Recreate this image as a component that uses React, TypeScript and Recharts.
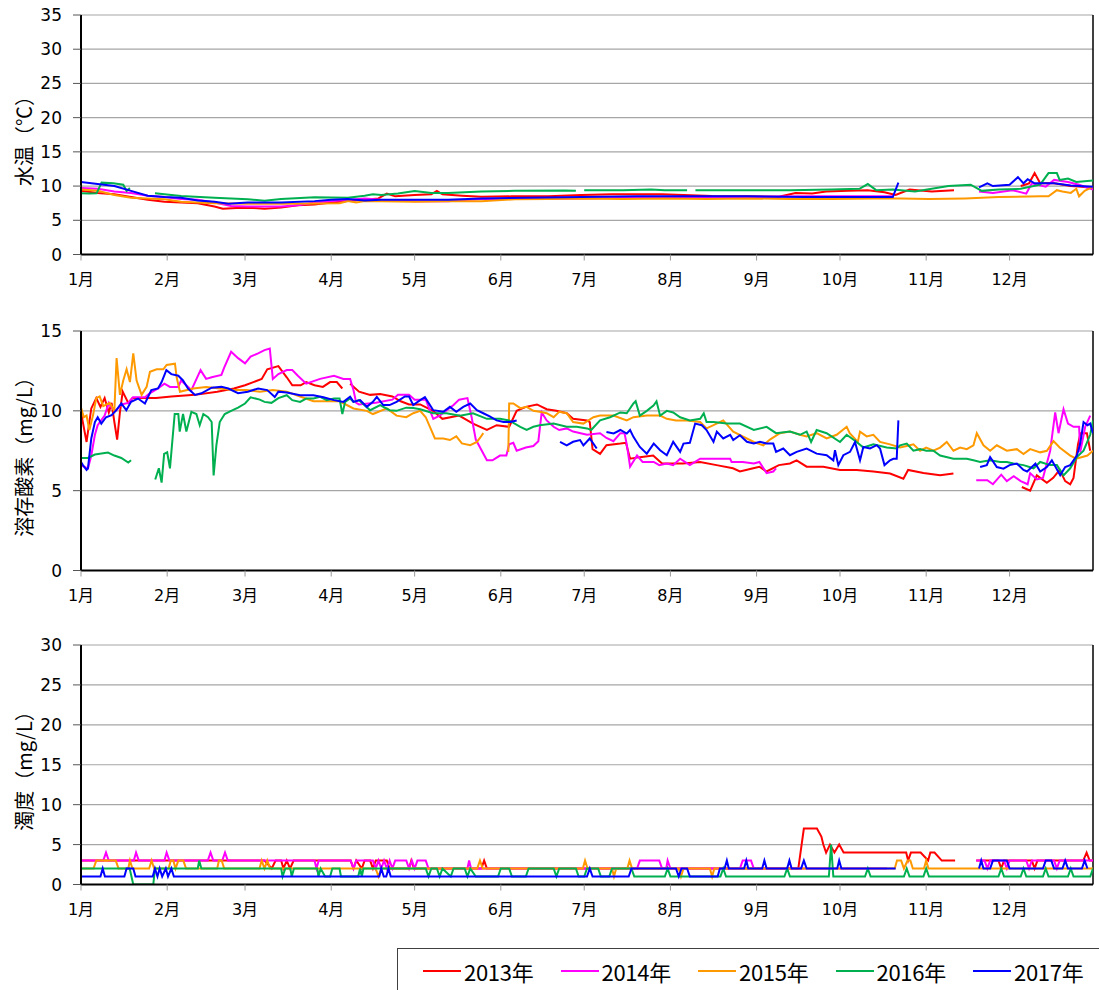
import React from "react";
import { LineChart, Line, XAxis, YAxis, CartesianGrid, ReferenceLine } from "recharts";

// [day of year (0 = Jan 1), value]; null marks a gap in the record
type Pt = [number, number | null];

const YEARS = ["2013年", "2014年", "2015年", "2016年", "2017年"];
const COLORS = ["#ff0000", "#ff00ff", "#ff9900", "#00b050", "#0000ff"];

const MONTH_DAYS = [0, 31, 59, 90, 120, 151, 181, 212, 243, 273, 304, 334];
const MONTH_LABELS = ["1月", "2月", "3月", "4月", "5月", "6月", "7月", "8月", "9月", "10月", "11月", "12月"];

const WT_TICKS = [0, 5, 10, 15, 20, 25, 30, 35];
const DO_TICKS = [0, 5, 10, 15];
const TB_TICKS = [0, 5, 10, 15, 20, 25, 30];

// 水温 (℃)
const WT_2013: Pt[] = [
  [0, 9.3], [6, 9.0], [12, 8.8], [18, 8.4], [24, 8.0], [30, 7.7], [36, 7.6], [42, 7.5], [48, 7.0], [51, 6.7],
  [56, 6.8], [62, 6.8], [66, 6.7], [72, 6.85], [78, 7.2], [84, 7.3], [90, 7.6], [96, 7.8], [102, 8.0], [107, 8.2],
  [110, 8.9], [113, 8.5], [120, 8.7], [126, 8.8], [128, 9.3], [130, 8.8], [137, 8.6], [144, 8.45], [155, 8.5],
  [168, 8.5], [180, 8.7], [191, 8.8], [209, 8.8], [227, 8.55], [240, 8.5], [251, 8.45], [257, 9.0], [263, 8.9],
  [268, 9.2], [276, 9.3], [283, 9.4], [289, 9.1], [293, 8.7], [298, 9.5], [306, 9.2], [314, 9.4], [315, null],
  [338, 10.0], [341, 10.4], [343, 11.9], [345, 10.4], [350, 10.4], [356, 10.0], [360, 9.9], [364, 9.7],
];
const WT_2014: Pt[] = [
  [0, 9.7], [6, 9.6], [12, 9.2], [18, 9.0], [24, 8.6], [30, 8.4], [36, 8.1], [42, 8.0], [48, 7.6], [54, 7.1],
  [60, 7.0], [66, 7.0], [72, 7.0], [78, 7.2], [84, 7.6], [90, 7.8], [96, 7.96], [102, 8.2], [108, 8.0], [114, 7.9],
  [120, 7.8], [132, 7.8], [144, 8.1], [160, 8.1], [180, 8.2], [200, 8.3], [220, 8.4], [240, 8.4], [260, 8.5],
  [280, 8.5], [292, 8.5], [293, null], [323, 9.2], [328, 9.0], [335, 9.4], [340, 8.9], [342, 10.4], [347, 9.9],
  [350, 10.9], [355, 10.6], [359, 10.2], [364, 9.5],
];
const WT_2015: Pt[] = [
  [0, 9.5], [6, 9.3], [12, 8.7], [18, 8.3], [24, 8.2], [30, 8.06], [36, 7.7], [42, 7.6], [48, 7.5], [54, 7.45],
  [60, 7.4], [72, 7.4], [84, 7.45], [93, 7.5], [96, 7.8], [99, 7.6], [102, 7.8], [108, 7.8], [120, 7.7], [132, 7.8],
  [144, 7.8], [156, 8.06], [168, 8.1], [180, 8.2], [195, 8.1], [210, 8.2], [225, 8.1], [240, 8.2], [255, 8.1],
  [270, 8.1], [285, 8.2], [295, 8.2], [305, 8.1], [318, 8.2], [330, 8.4], [345, 8.5], [348, 8.5], [351, 9.4],
  [353, 9.2], [356, 9.0], [358, 9.6], [359, 8.5], [361, 9.3], [364, 9.9],
];
const WT_2016: Pt[] = [
  [0, 8.94], [3, 8.9], [5.6, 8.94], [7.4, 10.5], [11.6, 10.4], [15.2, 10.2], [16.4, 9.3], [17.6, 9.7], [18, null],
  [26.6, 8.94], [36, 8.55], [48, 8.3], [60, 8.06], [66, 7.86], [72, 8.1], [84, 8.36], [96, 8.3], [102, 8.6],
  [105, 8.8], [108, 8.7], [114, 8.9], [120, 9.28], [126, 9.0], [132, 9.0], [138, 9.1], [144, 9.2], [156, 9.3],
  [174, 9.37], [178, 9.3], [179, null], [181, 9.4], [195, 9.4], [205, 9.5], [210, 9.4], [218, 9.4], [219, null],
  [221, 9.4], [240, 9.4], [255, 9.4], [270, 9.5], [280, 9.6], [283, 10.3], [286, 9.4], [292, 9.5], [300, 9.2],
  [312, 10.0], [320, 10.2], [324, 9.3], [330, 9.5], [338, 9.6], [345, 10.2], [348, 11.9], [351, 11.9], [352, 10.9],
  [355, 11.1], [358, 10.6], [364, 10.8],
];
const WT_2017: Pt[] = [
  [0, 10.6], [6, 10.3], [12, 10.0], [18, 9.3], [24, 8.6], [30, 8.4], [36, 8.3], [42, 7.9], [48, 7.7], [53, 7.4],
  [60, 7.6], [72, 7.6], [84, 7.8], [90, 8.0], [96, 8.1], [102, 7.9], [108, 8.0], [120, 8.0], [132, 8.0], [144, 8.2],
  [160, 8.3], [180, 8.4], [200, 8.5], [220, 8.5], [240, 8.5], [260, 8.4], [280, 8.4], [292, 8.4], [294, 10.5],
  [295, null], [323, 9.8], [326, 10.4], [328, 10.0], [334, 10.2], [337, 11.3], [339, 10.4], [340.5, 11.0],
  [343, 10.4], [350, 10.4], [356, 10.1], [364, 9.9],
];

// 溶存酸素 (mg/L)
const DO_2013: Pt[] = [
  [0, 9.9], [2, 8.05], [3.7, 10.15], [5.5, 10.8], [7, 10.25], [8.5, 10.8], [10, 9.9], [11, 10.5], [12, 9.3], [13, 8.2],
  [14, 9.9], [15, 11.2], [17, 10.5], [18.5, 10.8], [21, 10.8], [27, 10.8], [32.5, 10.9], [41, 11.0], [49, 11.2],
  [55, 11.4], [59, 11.6], [62, 11.8], [65, 12.0], [67, 12.6], [71, 12.8], [74, 12.1], [76, 11.6], [79, 11.6],
  [81, 11.8], [84, 11.6], [87, 11.5], [89.6, 11.8], [92, 11.8], [94, 11.4], [95, null], [96.8, 11.7], [100, 11.2],
  [104, 11.0], [107.6, 11.05], [112, 10.9], [115, 10.6], [118, 10.4], [122, 10.4], [126.6, 10.0], [130, 9.5],
  [136, 9.7], [141, 9.2], [146, 8.8], [149.5, 9.1], [154, 9.0], [156.7, 10.0], [160, 10.25], [164, 10.4],
  [167.5, 10.1], [171, 10.0], [174.7, 9.85], [177, 9.5], [182, 9.4], [183, 9.3], [184, 7.6], [186.7, 7.3],
  [189, 7.85], [194, 7.95], [196, 8.0], [197.5, 7.0], [201, 7.1], [205.8, 7.2], [209, 6.7], [216.5, 6.7],
  [222.7, 6.8], [228.6, 6.6], [234.5, 6.4], [237, 6.2], [241.8, 6.4], [244, 6.5], [246.6, 6.2], [251, 6.6],
  [255, 6.7], [257.4, 6.9], [261, 6.5], [267, 6.5], [273, 6.3], [279, 6.3], [285, 6.2], [291, 6.07], [295.8, 5.75],
  [297.5, 6.3], [303, 6.1], [309, 5.96], [313.8, 6.07], [314.5, null], [338.4, 5.23], [341.4, 5.0], [343.8, 5.96],
  [347.4, 5.5], [349.7, 5.8], [352, 6.3], [354, 5.6], [355.8, 5.4], [357, 5.8], [358.6, 7.9], [359.5, 8.6],
  [361.8, 8.6], [363, 7.5],
];
const DO_2014: Pt[] = [
  [0, 6.6], [1, 6.5], [2.5, 6.4], [3.7, 7.2], [5, 8.5], [6, 9.1], [8.5, 9.7], [10, 10.5], [11, 10.2], [12.5, 10.0],
  [14.5, 10.4], [17, 10.5], [18.7, 10.85], [23, 10.85], [24.7, 11.1], [27.7, 11.4], [30, 11.7], [32, 11.5], [35, 11.5],
  [36, 11.9], [39.7, 11.3], [43, 12.55], [45, 12.0], [47, 12.1], [50.5, 12.25], [51.5, 12.7], [54, 13.7], [56.5, 13.3],
  [59, 12.97], [61, 13.4], [63.7, 13.6], [66, 13.8], [67.9, 13.9], [69, 12.0], [71, 12.3], [74, 12.55], [76, 12.55],
  [78, 12.2], [81, 11.7], [86, 12.0], [91, 12.2], [94.4, 12.0], [96.8, 12.0], [98, 11.3], [99, 10.5], [100, 10.4],
  [106, 10.5], [112, 10.7], [114, 11.0], [118, 11.0], [120, 10.7], [124, 10.7], [126.7, 9.5], [129, 9.7],
  [134, 10.36], [136, 10.7], [139, 10.8], [140.5, 9.6], [142, 8.2], [146, 6.9], [148, 6.9], [150.7, 7.2], [153, 7.2],
  [154, 7.9], [155.5, 8.0], [156.7, 7.5], [160, 7.7], [162.7, 7.8], [164.5, 8.1], [165.7, 9.9], [167.5, 9.4],
  [170, 9.0], [172, 8.8], [174.7, 8.9], [177, 8.7], [182, 8.5], [186.7, 8.6], [189, 8.3], [191.5, 8.1], [194, 8.6],
  [195.5, 8.6], [196.3, 7.9], [197.5, 6.5], [200, 7.2], [202, 6.8], [206, 6.8], [208, 6.6], [210.7, 6.7], [213, 6.6],
  [215.5, 7.0], [219, 6.6], [222.7, 7.0], [227.5, 7.0], [233.5, 7.0], [234, 6.8], [238, 6.8], [242, 6.7], [244, 6.8],
  [246.6, 6.1], [249, 6.2], [250, 6.4], [250.5, null], [322, 5.65], [326, 5.65], [328, 5.4], [331, 6.0], [333, 5.6],
  [335.5, 5.9], [338, 5.6], [340.5, 5.4], [341.4, 6.1], [343.8, 5.7], [346, 5.8], [348.6, 7.5], [350.4, 9.9],
  [351.6, 8.6], [353.4, 10.1], [355, 9.2], [357, 9.0], [359, 9.0], [359.4, 7.4], [361.2, 9.0], [363, 9.7],
];
const DO_2015: Pt[] = [
  [0, 10.2], [1, 9.6], [2, 9.7], [3, 8.8], [4.3, 9.7], [5.5, 10.8], [6.7, 10.9], [8, 10.3], [10.3, 10.5], [12, 10.0],
  [12.8, 13.3], [14, 11.0], [15.2, 11.9], [16.4, 12.6], [17.6, 11.8], [18.8, 13.6], [20, 11.9], [21.8, 11.0],
  [23.6, 11.5], [24.8, 12.45], [27.2, 12.6], [29.6, 12.6], [30.8, 12.87], [33.8, 12.95], [34.4, 12.1], [35.6, 11.2],
  [40.4, 11.4], [45, 11.5], [50, 11.4], [54.8, 11.3], [59.6, 11.3], [64.4, 11.2], [69, 11.3], [74, 11.2], [78.8, 10.9],
  [83.6, 10.6], [88.4, 10.6], [93, 10.6], [98, 10.15], [102.8, 10.0], [105, 9.8], [110, 10.15], [113.5, 9.7],
  [117, 9.6], [119.5, 9.85], [122, 10.0], [124, 9.6], [125.5, 9.0], [127.3, 8.27], [130.3, 8.27], [132.7, 8.17],
  [135, 8.4], [137, 7.96], [140, 7.85], [142.4, 8.05], [143.5, 8.3], [144.7, 8.6], [145, null], [153.7, 7.43],
  [154, 10.46], [155.5, 10.46], [158, 10.17], [160.3, 10.25], [162.7, 10.0], [165, 9.94], [167.5, 9.85], [170, 9.6],
  [172, 9.94], [174.7, 9.85], [177, 9.3], [180.7, 9.2], [184.3, 9.6], [186.7, 9.7], [191.5, 9.7], [196.3, 9.4],
  [198.7, 9.6], [203.5, 9.7], [208.3, 9.7], [210.7, 9.5], [214, 9.4], [217.9, 9.4], [222.7, 9.3], [225, 8.9],
  [227.5, 9.1], [231, 9.4], [234.6, 8.7], [238, 8.4], [242, 8.05], [245.4, 7.84], [247.8, 8.2], [251.4, 8.6],
  [255, 8.7], [258.6, 8.5], [261, 8.4], [264.6, 8.6], [268.2, 8.27], [271.8, 8.5], [275.4, 9.0], [276.5, 8.6],
  [279.4, 8.05], [280.2, 8.7], [282.6, 8.4], [285, 8.5], [287.4, 8.05], [291, 7.9], [294.6, 7.7], [297, 7.8],
  [299.4, 7.9], [301.8, 7.5], [304, 7.7], [306.6, 7.5], [309, 7.7], [311.4, 8.05], [313.8, 7.5], [316.2, 7.7],
  [318.6, 7.6], [321, 7.84], [322.2, 8.6], [324.6, 7.84], [327, 7.5], [329.4, 7.84], [333, 7.5], [336.6, 7.6],
  [339, 7.3], [341.4, 7.6], [345, 7.4], [347.4, 7.5], [349.8, 8.1], [352, 7.7], [355.8, 7.2], [358, 7.0],
  [362, 7.2], [364, 7.5],
];
const DO_2016: Pt[] = [
  [0, 7.05], [2.5, 7.05], [5, 7.26], [9.7, 7.39], [12, 7.2], [14.5, 7.05], [17, 6.76], [18, 6.9], [18.5, null],
  [26.7, 5.7], [28, 6.4], [29, 5.5], [29.9, 7.3], [31, 7.4], [32, 6.4], [33.7, 9.8], [35, 9.8], [35.5, 8.7],
  [36.7, 9.8], [37.9, 8.7], [39.7, 9.93], [41.5, 9.8], [42.7, 9.1], [44, 9.8], [45.7, 9.6], [47, 9.3], [47.7, 5.96],
  [48.7, 7.85], [49.9, 9.3], [51.7, 9.8], [54, 10.0], [56.5, 10.2], [59, 10.46], [61, 10.85], [64.3, 10.7],
  [66, 10.56], [68.5, 10.5], [71, 10.8], [74, 10.98], [76, 10.67], [78.8, 10.56], [81, 10.77], [83.6, 10.77],
  [86, 10.88], [88.4, 10.67], [91, 10.77], [93, 10.77], [94, 9.8], [95, 10.56], [96.8, 10.77], [98, 10.56],
  [100, 10.67], [104, 10.04], [107.6, 10.36], [111, 10.04], [113.5, 10.0], [117, 10.2], [119.5, 10.17], [122, 10.1],
  [126.7, 9.85], [131.5, 9.85], [136.3, 9.7], [141, 9.85], [146, 9.5], [150.7, 9.5], [154, 9.4], [158, 9.0],
  [160.3, 8.8], [162.7, 9.0], [165, 9.1], [170, 9.2], [174.7, 9.0], [178.3, 9.0], [182, 8.9], [183.5, 8.8],
  [186.7, 9.4], [190.3, 9.6], [194, 9.9], [196.3, 9.85], [198.7, 10.46], [199.5, 10.6], [201, 9.7], [203.5, 10.0],
  [206, 10.35], [207, 10.6], [208.3, 9.7], [210.7, 10.0], [213, 9.9], [215.5, 9.6], [219, 9.4], [222.7, 9.5],
  [224, 9.85], [225, 9.3], [227.5, 9.3], [232.3, 9.2], [237, 9.2], [242, 8.8], [246.6, 9.0], [250, 8.6], [255, 8.7],
  [258.6, 8.5], [261, 8.7], [262.6, 8.05], [264.6, 8.8], [268.2, 8.6], [273, 8.05], [275.4, 8.5], [279, 8.05],
  [281.4, 7.7], [285, 7.9], [289.8, 7.7], [293.4, 7.64], [294.6, 7.84], [297, 7.95], [299.4, 7.5], [301.8, 7.6],
  [304, 7.5], [306.6, 7.5], [309, 7.2], [313.8, 7.0], [318.6, 7.0], [321, 6.9], [323.4, 6.8], [327, 6.9],
  [330.6, 6.8], [333, 6.8], [335.4, 6.7], [339, 6.6], [342.6, 6.4], [345, 6.8], [348.6, 6.6], [351, 6.6],
  [353.4, 5.96], [355.8, 6.4], [358.2, 7.1], [360.6, 7.5], [363, 8.5], [364, 9.4],
];
const DO_2017: Pt[] = [
  [0, 6.8], [0.7, 6.6], [2, 6.3], [2.5, 6.4], [3.7, 8.27], [5, 9.3], [6, 9.6], [7.3, 9.2], [9, 9.6], [11, 9.73],
  [12.7, 10.04], [14.5, 10.46], [16.3, 10.04], [18, 10.57], [20.5, 10.77], [23, 10.46], [25.3, 11.3], [27.7, 11.4],
  [29, 11.8], [30.7, 12.55], [32.5, 12.3], [35, 12.2], [36.7, 11.9], [38.5, 11.4], [41, 11.0], [43.3, 11.1],
  [47, 11.45], [50.5, 11.5], [53, 11.4], [56.5, 11.1], [60, 11.2], [63.7, 11.4], [67, 11.3], [69.7, 10.87],
  [71, 11.2], [74, 11.15], [78.8, 10.98], [83.6, 10.98], [87.2, 10.85], [91, 10.67], [94.4, 10.56], [96.8, 10.88],
  [98, 10.56], [100.4, 10.67], [102.8, 10.25], [105, 10.56], [106.4, 10.88], [108.7, 10.36], [111, 10.36],
  [113.5, 10.56], [116.5, 10.9], [118, 10.9], [119.5, 10.36], [122, 10.67], [123.7, 10.86], [125, 10.5],
  [126.7, 10.04], [130.3, 9.94], [132.7, 10.25], [135, 9.94], [137.5, 10.25], [140, 10.46], [142.4, 10.04],
  [144.7, 9.85], [147, 9.65], [149.5, 9.4], [152, 9.3], [154.3, 9.3], [156.7, 9.4], [157, null], [172.3, 8.06],
  [174.7, 7.84], [177, 8.06], [179.5, 8.17], [180.7, 7.84], [183, 8.27], [185.5, 7.64], [186, null], [189, 8.68],
  [191.6, 8.58], [194, 8.8], [196.3, 8.58], [197.5, 8.8], [198.7, 8.37], [201, 7.74], [203.5, 7.32], [206, 7.95],
  [208.3, 7.53], [210.7, 7.22], [213, 8.06], [215.5, 7.43], [216.7, 7.95], [219, 8.0], [220.9, 9.2], [223.3, 9.1],
  [225, 8.8], [227.5, 8.06], [228.7, 8.7], [231, 8.27], [233.5, 8.5], [234.6, 8.17], [237, 8.47], [239.5, 8.06],
  [242, 7.95], [244.2, 8.06], [246.6, 7.95], [249, 7.95], [250, 7.43], [252.6, 7.64], [255, 7.22], [257.4, 7.43],
  [261, 7.64], [264.6, 7.32], [268.2, 7.22], [270.6, 6.9], [271.2, 7.53], [272.4, 6.6], [274.2, 7.22], [276.6, 7.43],
  [278.4, 8.05], [280.2, 6.9], [281.4, 7.74], [283.8, 7.64], [286.2, 7.85], [287.4, 7.64], [289, 6.6], [291, 6.9],
  [292.2, 7.0], [293.4, 7.0], [294, 9.4], [294.5, null], [323.4, 6.48], [325.8, 6.6], [327, 7.1], [329.4, 6.48],
  [331.8, 6.38], [334, 6.6], [336.6, 6.7], [339, 6.3], [340.3, 6.2], [343.3, 6.7], [345, 6.2], [347.4, 6.48],
  [349.2, 6.9], [352.2, 5.96], [354, 6.48], [355.8, 6.6], [358.2, 7.2], [359.4, 7.95], [360.6, 9.3], [362, 9.1],
  [363, 9.2], [364, 8.6],
];

// 濁度 (mg/L)
const TB_2013: Pt[] = [
  [0, 3], [66, 3], [68.6, 2], [70, 3], [72, 3], [72.8, 2], [74, 3], [75.2, 2], [76.5, 3], [97, 3], [98, 2], [99, 3],
  [101, 2], [102, 3], [104, 3], [105, 2], [106, 3], [110, 3], [111, 2], [118, 2], [118.8, 3], [119.8, 2], [144, 2],
  [145, 3], [146, 2], [258, 2], [260, 7], [264.7, 7], [266.3, 6], [267, 5], [268, 4], [269.4, 5], [271, 4],
  [272.7, 5], [274.3, 4], [296.8, 4], [297.5, 3], [298.5, 4], [302, 4], [304.7, 3], [305.5, 4], [307, 4],
  [309.6, 3], [314.4, 3], [315, null], [322, 3], [330, 3], [331, 2], [332, 3], [342, 3], [343, 2], [344, 3],
  [360.5, 3], [361.7, 4], [362.8, 3], [364, 3],
];
const TB_2014: Pt[] = [
  [0, 3], [8, 3], [9, 4], [10, 3], [19, 3], [19.8, 4], [20.8, 3], [30, 3], [30.8, 4], [31.8, 3], [45.6, 3],
  [46.6, 4], [47.6, 3], [50.8, 3], [51.8, 4], [52.8, 3], [84, 3], [84.7, 2], [85.5, 3], [97, 3], [98, 2], [99, 3],
  [105, 3], [106, 2], [107, 3], [108, 2], [109, 3], [110, 2], [111, 3], [112, 2], [113, 3], [117, 3], [118, 2],
  [119, 3], [120, 2], [121, 3], [124, 3], [125, 2], [139, 2], [139.6, 3], [140.3, 2], [200, 2], [201, 3], [208, 3],
  [209, 2], [210.5, 2], [211, 3], [212, 2], [237, 2], [238, 3], [241, 3], [242, 2], [290, 2], [291, null],
  [322, 3], [325, 3], [326, 2], [327, 3], [332, 3], [333, 2], [334, 3], [340, 3], [341, 2], [342, 3], [350, 3],
  [351, 2], [352, 3], [364, 3],
];
const TB_2015: Pt[] = [
  [0, 2], [4.5, 2], [5.5, 3], [12.5, 3], [13.5, 2], [17, 2], [17.6, 3], [18.5, 2], [24.5, 2], [25.4, 3], [26.3, 2],
  [31.5, 2], [32.3, 3], [33.2, 3], [34, 2], [35, 3], [36.8, 3], [37.8, 2], [49, 2], [49.6, 3], [50.6, 3], [51.5, 2],
  [64.2, 2], [65, 3], [66, 2], [67, 3], [68, 2], [106, 2], [107, 1], [108, 2], [142.5, 2], [143.5, 3], [144.5, 2],
  [180.5, 2], [181.3, 3], [182.2, 2], [191, 2], [191.7, 1], [192.5, 2], [196.5, 2], [197.3, 3], [198.2, 2],
  [215, 2], [215.8, 1], [216.7, 2], [226.2, 2], [227, 1], [227.8, 2], [292.7, 2], [293.5, 3], [295, 3], [296, 2],
  [297.3, 3], [298.3, 3], [299.2, 2], [303.2, 2], [304, 3], [304.8, 2], [364, 2],
];
const TB_2016: Pt[] = [
  [0, 2], [17.5, 2], [18.8, 0], [26, 0], [26.6, 2], [42, 2], [42.5, 3], [43.3, 2], [72, 2], [72.5, 1], [73.5, 2],
  [75.3, 2], [75.8, 1], [76.6, 2], [85, 2], [85.4, 1], [86.2, 2], [87.8, 1], [89.6, 1], [90.4, 2], [93, 2],
  [93.5, 1], [99.7, 1], [100.4, 2], [101, 1], [101.6, 2], [124, 2], [125, 1], [126, 2], [128, 2], [129, 1],
  [130, 2], [133, 1], [134, 2], [138, 2], [139, 1], [140, 2], [142, 1], [150, 1], [151, 2], [154, 2], [155, 1],
  [160, 1], [161, 2], [170, 2], [171, 1], [172, 2], [178, 2], [179, 1], [181, 1], [182, 2], [186, 2], [187, 1],
  [190, 1], [191, 2], [198, 2], [199, 1], [210, 1], [211, 2], [212, 1], [230, 1], [231, 2], [232, 1], [253, 1],
  [254, 2], [255, 1], [269, 1], [269.8, 5], [270.6, 1], [282, 1], [283, 2], [284, 1], [296, 1], [297, 2], [298, 1],
  [303, 1], [304, 2], [305, 1], [330, 1], [331, 2], [332, 1], [338, 1], [339, 2], [340, 1], [346, 1], [347, 2],
  [348, 1], [355, 1], [356, 2], [357, 1], [363, 1], [364, 2],
];
const TB_2017: Pt[] = [
  [0, 1], [7, 1], [7.8, 2], [8.6, 1], [15.6, 1], [16.4, 2], [18.8, 2], [19.6, 1], [25.8, 1], [26.6, 2], [27.5, 1],
  [28.3, 2], [29.2, 1], [30.5, 2], [31.3, 1], [32.5, 2], [33.4, 1], [107.3, 1], [108, 2], [108.9, 1], [109.8, 1],
  [110.6, 2], [111.4, 1], [182, 1], [183, 2], [184, 1], [197, 1], [198, 2], [214, 2], [215, 1], [216, 2], [218, 2],
  [219, 1], [229, 1], [229.8, 2], [231.5, 2], [232.3, 3], [233, 2], [238.5, 2], [239.3, 3], [240, 2], [245, 2],
  [245.8, 3], [246.6, 2], [254, 2], [254.8, 3], [255.6, 2], [259, 2], [260, 3], [261, 2], [272, 2], [272.7, 3],
  [273.5, 2], [293, 2], [293.5, null], [323, 2], [323.8, 3], [324.6, 2], [327, 2], [328, 3], [333, 3], [334, 2],
  [346, 2], [347, 3], [349, 3], [350, 2], [353, 2], [354, 3], [355, 2], [360, 2], [361, 3], [362, 2],
];

const NUM_FONT = "'DejaVu Sans', 'Noto Sans CJK JP', sans-serif";
const JP_FONT = "'Noto Sans CJK JP', sans-serif";

const CHART_W = 1099;
const CHART_H = 300;
const PLOT_TOP = 15;
const PLOT_H = 239.5;

const toRows = (pts: Pt[]) => pts.map(([d, v]) => ({ d, v }));

function MonthTick(props: any) {
  const { x, y, payload } = props;
  const i = MONTH_DAYS.indexOf(payload.value);
  return (
    <text x={x} y={y} dy={16.5} textAnchor="middle" dominantBaseline="central" fontSize={16} fontFamily={NUM_FONT} fill="#000">
      {MONTH_LABELS[i]}
    </text>
  );
}

interface PanelProps {
  top: number;
  title: string;
  yMax: number;
  yTicks: number[];
  series: Pt[][];
}

function Panel({ top, title, yMax, yTicks, series }: PanelProps) {
  return (
    <div style={{ position: "absolute", left: 0, top, width: CHART_W, height: CHART_H }}>
      <LineChart width={CHART_W} height={CHART_H} margin={{ top: PLOT_TOP, right: 6, bottom: 0, left: 0 }}>
        <CartesianGrid vertical={false} stroke="#a6a6a6" strokeWidth={1.2} />
        <XAxis
          type="number"
          dataKey="d"
          domain={[0, 364]}
          allowDataOverflow
          ticks={MONTH_DAYS}
          interval={0}
          height={CHART_H - PLOT_TOP - PLOT_H}
          axisLine={{ stroke: "#000", strokeWidth: 2 }}
          tickLine={{ stroke: "#999" }}
          tickSize={6}
          tickMargin={2}
          tick={<MonthTick />}
        />
        <YAxis
          type="number"
          domain={[0, yMax]}
          allowDataOverflow
          ticks={yTicks}
          interval={0}
          width={81}
          axisLine={{ stroke: "#000", strokeWidth: 2 }}
          tickLine={{ stroke: "#555" }}
          tickSize={8}
          tickMargin={11}
          tick={{ fontSize: 17, fill: "#000", fontFamily: NUM_FONT }}
        />
        <ReferenceLine x={364} stroke="#000" strokeWidth={1.5} />
        {series.map((pts, i) => (
          <Line
            key={YEARS[i]}
            data={toRows(pts)}
            dataKey="v"
            name={YEARS[i]}
            stroke={COLORS[i]}
            strokeWidth={2}
            dot={false}
            activeDot={false}
            connectNulls={false}
            isAnimationActive={false}
          />
        ))}
      </LineChart>
      <div
        style={{
          position: "absolute",
          left: 23,
          top: PLOT_TOP + PLOT_H / 2 + 1,
          transform: "translate(-50%, -50%) rotate(-90deg)",
          whiteSpace: "nowrap",
          fontSize: 20,
          fontFamily: JP_FONT,
          color: "#000",
        }}
      >
        {title}
      </div>
    </div>
  );
}

function Legend() {
  return (
    <div
      style={{
        position: "absolute",
        left: 397,
        top: 948,
        width: 720,
        height: 60,
        border: "1.5px solid #404040",
        boxSizing: "border-box",
      }}
    >
      {YEARS.map((y, i) => (
        <div
          key={y}
          style={{ position: "absolute", left: 25 + i * 137.5, top: 7, display: "flex", alignItems: "center", height: 30 }}
        >
          <span style={{ display: "inline-block", width: 38, height: 2, background: COLORS[i], marginRight: 3 }} />
          <span style={{ fontSize: 22, fontFamily: JP_FONT, color: "#000", letterSpacing: -0.3 }}>{y}</span>
        </div>
      ))}
    </div>
  );
}

export default function App() {
  return (
    <div style={{ position: "absolute", left: 0, top: 0, width: 1099, height: 990, background: "#fff", overflow: "hidden" }}>
      <Panel top={0} title="水温（℃）" yMax={35} yTicks={WT_TICKS} series={[WT_2013, WT_2014, WT_2015, WT_2016, WT_2017]} />
      <Panel top={316} title="溶存酸素（mg/L）" yMax={15} yTicks={DO_TICKS} series={[DO_2013, DO_2014, DO_2015, DO_2016, DO_2017]} />
      <Panel top={630} title="濁度（mg/L）" yMax={30} yTicks={TB_TICKS} series={[TB_2013, TB_2014, TB_2015, TB_2016, TB_2017]} />
      <Legend />
    </div>
  );
}
